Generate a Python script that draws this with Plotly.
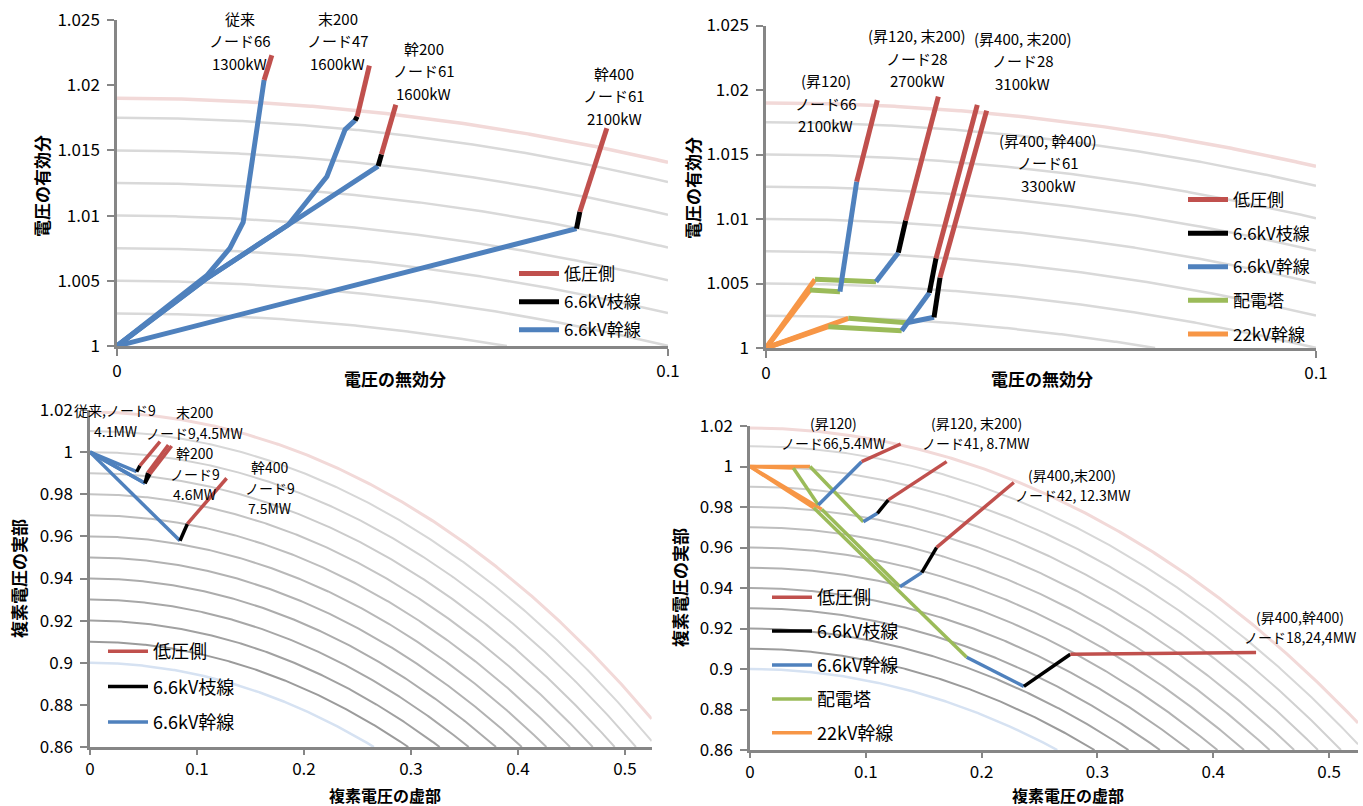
import numpy as np
import plotly.graph_objects as go

W, H = 1363, 806
FONT = "Noto Sans CJK JP"

# ---------------- data ----------------
# segment kinds: lv=低圧側, br=6.6kV枝線, tr=6.6kV幹線, tw=配電塔, hv=22kV幹線
kind_names = {"lv": "低圧側", "br": "6.6kV枝線", "tr": "6.6kV幹線", "tw": "配電塔", "hv": "22kV幹線"}
kind_colors = {"lv": "#C0504D", "br": "#000000", "tr": "#4F81BD", "tw": "#9BBB59", "hv": "#F79646"}
kind_rank = {"lv": 1, "br": 2, "tr": 3, "tw": 4, "hv": 5}
draw_order = ["hv", "tw", "tr", "br", "lv"]

# top-left: 電圧の無効分 (x) vs 電圧の有効分 (y)
tl_jurai_x = [0, 0.0163, 0.0205, 0.0229, 0.0267, 0.0281]
tl_jurai_y = [1.0, 1.0054, 1.0075, 1.0095, 1.0204, 1.0223]
tl_jurai_k = ["tr", "tr", "tr", "tr", "lv"]

tl_sue200_x = [0, 0.0160, 0.0311, 0.0381, 0.0414, 0.0432, 0.0436, 0.0458]
tl_sue200_y = [1.0, 1.0051, 1.0093, 1.0130, 1.0166, 1.0173, 1.0176, 1.0215]
tl_sue200_k = ["tr", "tr", "tr", "tr", "tr", "br", "lv"]

tl_kan200_x = [0, 0.0160, 0.0311, 0.0474, 0.0480, 0.0506]
tl_kan200_y = [1.0, 1.0051, 1.0093, 1.0138, 1.0147, 1.0185]
tl_kan200_k = ["tr", "tr", "tr", "br", "lv"]

tl_kan400_x = [0, 0.0834, 0.0840, 0.0889]
tl_kan400_y = [1.0, 1.0090, 1.0103, 1.0167]
tl_kan400_k = ["tr", "br", "lv"]

# top-right
tr_s120_x = [0, 0.0080, 0.01345, 0.01649, 0.02024]
tr_s120_y = [1.0, 1.0045, 1.00437, 1.01289, 1.01922]
tr_s120_k = ["hv", "tw", "tr", "lv"]

tr_s120s200_x = [0, 0.00891, 0.0200, 0.02406, 0.02539, 0.03133]
tr_s120s200_y = [1.0, 1.00532, 1.00514, 1.00739, 1.00987, 1.01948]
tr_s120s200_k = ["hv", "tw", "tr", "br", "lv"]

tr_s400s200_x = [0, 0.01133, 0.02467, 0.02970, 0.03091, 0.03842]
tr_s400s200_y = [1.0, 1.00165, 1.00134, 1.00429, 1.00695, 1.01884]
tr_s400s200_k = ["hv", "tw", "tr", "br", "lv"]

tr_s400k400_x = [0, 0.01497, 0.02558, 0.03055, 0.03164, 0.04012]
tr_s400k400_y = [1.0, 1.0023, 1.00196, 1.00238, 1.00545, 1.0184]
tr_s400k400_k = ["hv", "tw", "tr", "br", "lv"]

# bottom-left: 複素電圧の虚部 (x) vs 実部 (y)
bl_jurai_x = [0, 0.0436, 0.0467, 0.0654]
bl_jurai_y = [1.0, 0.9907, 0.9936, 1.0050]
bl_jurai_k = ["tr", "br", "lv"]

bl_sue200_x = [0, 0.0514, 0.0539, 0.0732]
bl_sue200_y = [1.0, 0.9852, 0.9902, 1.0034]
bl_sue200_k = ["tr", "br", "lv"]

bl_kan200_x = [0, 0.0514, 0.0561, 0.0763]
bl_kan200_y = [1.0, 0.9852, 0.9896, 1.0029]
bl_kan200_k = ["tr", "br", "lv"]

bl_kan400_x = [0, 0.0841, 0.0910, 0.1277]
bl_kan400_y = [1.0, 0.9579, 0.9659, 0.9876]
bl_kan400_k = ["tr", "br", "lv"]

# bottom-right
br_s120_x = [0, 0.0374, 0.0590, 0.0964, 0.1301]
br_s120_y = [1.0, 0.9993, 0.9810, 1.0024, 1.0111]
br_s120_k = ["hv", "tw", "tr", "lv"]

br_s120s200_x = [0, 0.0518, 0.0979, 0.1100, 0.1195, 0.1698]
br_s120s200_y = [1.0, 1.0, 0.9727, 0.9769, 0.9835, 1.0024]
br_s120s200_k = ["hv", "tw", "tr", "br", "lv"]

br_s400s200_x = [0, 0.0619, 0.1295, 0.1483, 0.1612, 0.2278]
br_s400s200_y = [1.0, 0.9789, 0.9406, 0.9476, 0.9601, 0.9921]
br_s400s200_k = ["hv", "tw", "tr", "br", "lv"]

br_s400k400_x = [0, 0.0550, 0.1871, 0.2365, 0.2766, 0.4370]
br_s400k400_y = [1.0, 0.9796, 0.9058, 0.8914, 0.9073, 0.9081]
br_s400k400_k = ["hv", "tw", "tr", "br", "lv"]

# constant |V| reference circles
top_gray_radii = [1.0025, 1.005, 1.0075, 1.01, 1.0125, 1.015, 1.0175]
bottom_gray_radii = [0.91, 0.92, 0.93, 0.94, 0.95, 0.96, 0.97, 0.98, 0.99, 1.00, 1.01]
upper_limit = 1.019
lower_limit = 0.90

# axes
top_xrange = [0, 0.1]
top_yrange = [1.0, 1.025]
top_xticks = [0, 0.1]
top_xticktext = ["0", "0.1"]
top_yticks = [1.0, 1.005, 1.01, 1.015, 1.02, 1.025]
top_yticktext = ["1", "1.005", "1.01", "1.015", "1.02", "1.025"]
bot_xrange = [0, 0.525]
bot_yrange = [0.86, 1.02]
bot_xticks = [0, 0.1, 0.2, 0.3, 0.4, 0.5]
bot_xticktext = ["0", "0.1", "0.2", "0.3", "0.4", "0.5"]
bot_yticks = [0.86, 0.88, 0.90, 0.92, 0.94, 0.96, 0.98, 1.0, 1.02]
bot_yticktext = ["0.86", "0.88", "0.9", "0.92", "0.94", "0.96", "0.98", "1", "1.02"]

# labels: (lines, x, y of first line) in data units of each panel
tl_labels = [(["従来", "ノード66", "1300kW"], 0.0223, 1.02515),
             (["末200", "ノード47", "1600kW"], 0.0401, 1.02515),
             (["幹200", "ノード61", "1600kW"], 0.0557, 1.02285),
             (["幹400", "ノード61", "2100kW"], 0.0902, 1.02093)]
tr_labels = [(["(昇120)", "ノード66", "2100kW"], 0.0109, 1.0207),
             (["(昇120, 末200)", "ノード28", "2700kW"], 0.0275, 1.02419),
             (["(昇400, 末200)", "ノード28", "3100kW"], 0.0467, 1.02403),
             (["(昇400, 幹400)", "ノード61", "3300kW"], 0.0513, 1.01612)]
bl_labels = [(["従来,ノード9", "4.1MW"], 0.0234, 1.0200),
             (["末200", "ノード9,4.5MW"], 0.0981, 1.01905),
             (["幹200", "ノード9", "4.6MW"], 0.0981, 0.99958),
             (["幹400", "ノード9", "7.5MW"], 0.1682, 0.99293)]
br_labels = [(["(昇120)", "ノード66,5.4MW"], 0.0725, 1.02148),
             (["(昇120, 末200)", "ノード41, 8.7MW"], 0.1952, 1.02148),
             (["(昇400,末200)", "ノード42, 12.3MW"], 0.2781, 0.9958),
             (["(昇400,幹400)", "ノード18,24,4MW"], 0.4750, 0.92568)]

# ---------------- layout geometry (pixels) ----------------
panels = {
    "tl": dict(ax=("x", "y"), px=(117, 668), py=(20, 346), xr=top_xrange, yr=top_yrange),
    "tr": dict(ax=("x2", "y2"), px=(766, 1316), py=(25.5, 348), xr=top_xrange, yr=top_yrange),
    "bl": dict(ax=("x3", "y3"), px=(90, 651.7), py=(410, 747), xr=bot_xrange, yr=bot_yrange),
    "br": dict(ax=("x4", "y4"), px=(750, 1358), py=(426, 750), xr=bot_xrange, yr=bot_yrange),
}
for p in panels.values():
    p["xdom"] = [p["px"][0] / W, p["px"][1] / W]
    p["ydom"] = [1 - p["py"][1] / H, 1 - p["py"][0] / H]


def to_paper(key, x, y):
    p = panels[key]
    fx = (x - p["xr"][0]) / (p["xr"][1] - p["xr"][0])
    fy = (y - p["yr"][0]) / (p["yr"][1] - p["yr"][0])
    return (p["xdom"][0] + fx * (p["xdom"][1] - p["xdom"][0]),
            p["ydom"][0] + fy * (p["ydom"][1] - p["ydom"][0]))


fig = go.Figure()


def arc(r, xmax, ymin):
    if r <= ymin:
        return [], []
    xe = min(xmax, np.sqrt(r * r - ymin * ymin))
    xs = np.linspace(0, xe, 300)
    return xs, np.sqrt(r * r - xs * xs)


def add_circles(key, gray_radii, gray_colors, width, with_lower):
    p = panels[key]
    xa, ya = p["ax"]
    for r, c in zip(gray_radii, gray_colors):
        xs, ys = arc(r, p["xr"][1], p["yr"][0])
        fig.add_trace(go.Scatter(x=xs, y=ys, mode="lines", xaxis=xa, yaxis=ya,
                                 line=dict(color=c, width=width), showlegend=False,
                                 hoverinfo="skip"))
    xs, ys = arc(upper_limit, p["xr"][1], p["yr"][0])
    fig.add_trace(go.Scatter(x=xs, y=ys, mode="lines", xaxis=xa, yaxis=ya,
                             line=dict(color="#F2D9D8", width=width + 1), showlegend=False,
                             hoverinfo="skip"))
    if with_lower:
        xs, ys = arc(lower_limit, p["xr"][1], p["yr"][0])
        fig.add_trace(go.Scatter(x=xs, y=ys, mode="lines", xaxis=xa, yaxis=ya,
                                 line=dict(color="#D6E2F2", width=width + 0.5), showlegend=False,
                                 hoverinfo="skip"))


top_gray_colors = ["#D9D9D9"] * len(top_gray_radii)
bottom_gray_colors = []
for r in bottom_gray_radii:
    t = (r - bottom_gray_radii[0]) / (bottom_gray_radii[-1] - bottom_gray_radii[0])
    g = int(155 + 60 * t)
    bottom_gray_colors.append("rgb(%d,%d,%d)" % (g, g, g))

add_circles("tl", top_gray_radii, top_gray_colors, 2.5, False)
add_circles("tr", top_gray_radii, top_gray_colors, 2.5, False)
add_circles("bl", bottom_gray_radii, bottom_gray_colors, 2, True)
add_circles("br", bottom_gray_radii, bottom_gray_colors, 2, True)


def add_series_group(key, series, width, legend_id, kinds_in_legend):
    p = panels[key]
    xa, ya = p["ax"]
    acc = {k: ([], []) for k in kind_names}
    for xs, ys, ks in series:
        i = 0
        n = len(ks)
        while i < n:
            j = i
            while j + 1 < n and ks[j + 1] == ks[i]:
                j += 1
            ax_, ay_ = acc[ks[i]]
            ax_.extend(xs[i:j + 2] + [None])
            ay_.extend(ys[i:j + 2] + [None])
            i = j + 1
    for k in draw_order:
        if k not in kinds_in_legend:
            continue
        ax_, ay_ = acc[k]
        fig.add_trace(go.Scatter(x=ax_, y=ay_, mode="lines", xaxis=xa, yaxis=ya,
                                 line=dict(color=kind_colors[k], width=width),
                                 name=kind_names[k], legend=legend_id,
                                 legendgroup=key + k, legendrank=kind_rank[k],
                                 connectgaps=False, hoverinfo="skip"))


add_series_group("tl", [(tl_jurai_x, tl_jurai_y, tl_jurai_k),
                        (tl_sue200_x, tl_sue200_y, tl_sue200_k),
                        (tl_kan200_x, tl_kan200_y, tl_kan200_k),
                        (tl_kan400_x, tl_kan400_y, tl_kan400_k)], 5, "legend", ["tr", "br", "lv"])
add_series_group("tr", [(tr_s120_x, tr_s120_y, tr_s120_k),
                        (tr_s120s200_x, tr_s120s200_y, tr_s120s200_k),
                        (tr_s400s200_x, tr_s400s200_y, tr_s400s200_k),
                        (tr_s400k400_x, tr_s400k400_y, tr_s400k400_k)], 5, "legend2",
                 ["hv", "tw", "tr", "br", "lv"])
add_series_group("bl", [(bl_jurai_x, bl_jurai_y, bl_jurai_k),
                        (bl_sue200_x, bl_sue200_y, bl_sue200_k),
                        (bl_kan200_x, bl_kan200_y, bl_kan200_k),
                        (bl_kan400_x, bl_kan400_y, bl_kan400_k)], 3.5, "legend3", ["tr", "br", "lv"])
add_series_group("br", [(br_s120_x, br_s120_y, br_s120_k),
                        (br_s120s200_x, br_s120s200_y, br_s120s200_k),
                        (br_s400s200_x, br_s400s200_y, br_s400s200_k),
                        (br_s400k400_x, br_s400k400_y, br_s400k400_k)], 3.5, "legend4",
                 ["hv", "tw", "tr", "br", "lv"])

# ---------------- axes ----------------
layout = dict(width=W, height=H, autosize=False, margin=dict(l=0, r=0, t=0, b=0, pad=0),
              paper_bgcolor="white", plot_bgcolor="white", showlegend=True,
              font=dict(family=FONT, color="#000000"))


def axis_dict(dom, rng, tv, tt, anchor, standoff, ticklen=7):
    return dict(domain=dom, range=rng, tickvals=tv, ticktext=tt, anchor=anchor,
                automargin=False,
                showgrid=False, zeroline=False, showline=True, linecolor="#868686",
                linewidth=2.5, ticks="outside", ticklen=ticklen, tickwidth=2, tickcolor="#868686",
                tickfont=dict(family=FONT, size=17, color="#000000"),
                ticklabelstandoff=standoff, fixedrange=True)


for key in ["tl", "tr", "bl", "br"]:
    p = panels[key]
    xa, ya = p["ax"]
    top = key in ("tl", "tr")
    xname = "xaxis" if xa == "x" else "xaxis" + xa[1:]
    yname = "yaxis" if ya == "y" else "yaxis" + ya[1:]
    layout[xname] = axis_dict(p["xdom"], p["xr"], top_xticks if top else bot_xticks,
                              top_xticktext if top else bot_xticktext, ya, 1 if top else 0,
                              7 if top else 5)
    layout[yname] = axis_dict(p["ydom"], p["yr"], top_yticks if top else bot_yticks,
                              top_yticktext if top else bot_yticktext, xa, 4)


# ---------------- legends ----------------
def legend_dict(px, py, size, gap):
    return dict(x=px / W, y=1 - py / H, xanchor="left", yanchor="top",
                bgcolor="rgba(0,0,0,0)", borderwidth=0, traceorder="grouped",
                tracegroupgap=gap, itemwidth=40,
                font=dict(family=FONT, size=size, color="#000000"),
                itemclick=False, itemdoubleclick=False)


layout["legend"] = legend_dict(514, 256, 17, 3)
layout["legend2"] = legend_dict(1183, 182, 17, 8.5)
layout["legend3"] = legend_dict(103, 633, 18, 9)
layout["legend4"] = legend_dict(767, 579, 18, 7.5)

# ---------------- annotations ----------------
annotations = []


def add_labels(key, labels, size, spacing):
    for lines, x, y in labels:
        xp, yp = to_paper(key, x, y)
        for i, line in enumerate(lines):
            annotations.append(dict(x=xp, y=yp - i * spacing / H, xref="paper", yref="paper",
                                    text=line, showarrow=False,
                                    xanchor="center", yanchor="middle",
                                    font=dict(family=FONT, size=size, color="#000000")))


add_labels("tl", tl_labels, 15, 22.5)
add_labels("tr", tr_labels, 15, 22.5)
add_labels("bl", bl_labels, 14, 20.5)
add_labels("br", br_labels, 14, 20)

axis_titles = [("電圧の無効分", 395, 379, 0, 17), ("電圧の有効分", 41, 186, -90, 17),
               ("電圧の無効分", 1042, 379, 0, 17), ("電圧の有効分", 693, 188, -90, 17),
               ("複素電圧の虚部", 385, 795, 0, 16), ("複素電圧の実部", 18, 579, -90, 17),
               ("複素電圧の虚部", 1068, 795, 0, 16), ("複素電圧の実部", 679, 588, -90, 17)]
for text, px, py, ang, sz in axis_titles:
    annotations.append(dict(x=px / W, y=1 - py / H, xref="paper", yref="paper", text=text,
                            showarrow=False, xanchor="center", yanchor="middle", textangle=ang,
                            font=dict(family=FONT, size=sz, color="#000000", weight="bold")))

layout["annotations"] = annotations
fig.update_layout(**layout)
fig.write_html("out.html", config={"displayModeBar": False},
               post_script="document.body.style.margin='0';")
